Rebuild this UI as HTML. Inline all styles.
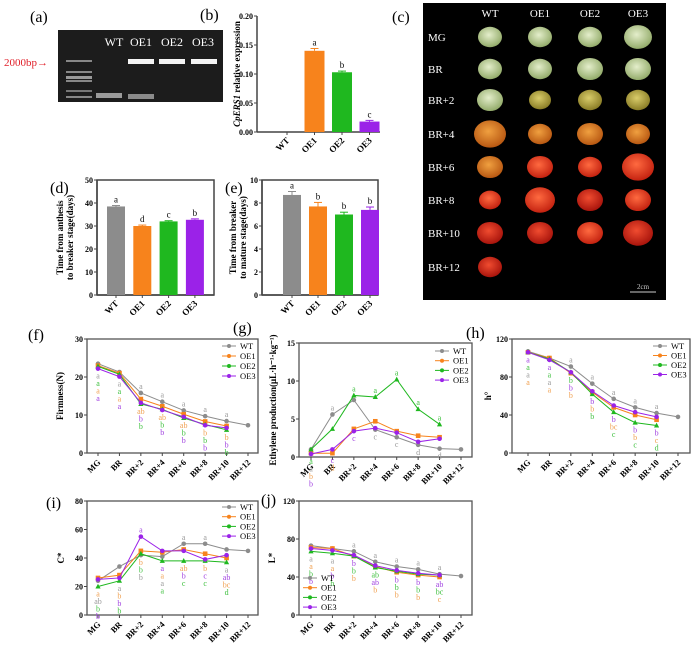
<!DOCTYPE html>
<html><head><meta charset="utf-8"><style>
body{margin:0;background:#fff;width:692px;height:650px;overflow:hidden}
svg{display:block;font-family:"Liberation Serif",serif}
</style></head><body>
<svg id="s" width="692" height="650" viewBox="0 0 692 650" xmlns="http://www.w3.org/2000/svg">
<defs>
<radialGradient id="gG" cx="45%" cy="40%" r="60%"><stop offset="0" stop-color="#e4eecb"/><stop offset="1" stop-color="#93ab6a"/></radialGradient>
<radialGradient id="gY" cx="45%" cy="40%" r="60%"><stop offset="0" stop-color="#d9cc6a"/><stop offset="1" stop-color="#8a7d26"/></radialGradient>
<radialGradient id="gO" cx="45%" cy="40%" r="60%"><stop offset="0" stop-color="#f0a040"/><stop offset="1" stop-color="#b85812"/></radialGradient>
<radialGradient id="gR" cx="45%" cy="40%" r="60%"><stop offset="0" stop-color="#ff6a40"/><stop offset="1" stop-color="#c42210"/></radialGradient>
<radialGradient id="gD" cx="45%" cy="40%" r="60%"><stop offset="0" stop-color="#f04c30"/><stop offset="1" stop-color="#a8140c"/></radialGradient>
</defs>
<g>
<rect x="58" y="30" width="165" height="72" fill="#1c1c1c"/>
<g fill="#cfcfcf">
<rect x="66" y="60" width="26" height="2" opacity=".6"/><rect x="66" y="71" width="26" height="2" opacity=".6"/><rect x="66" y="76" width="26" height="3" opacity=".7"/><rect x="66" y="80" width="26" height="2" opacity=".6"/><rect x="66" y="90" width="26" height="2" opacity=".5"/><rect x="66" y="96" width="26" height="2" opacity=".6"/>
</g>
<rect x="96" y="93" width="26" height="5" fill="#9a9a9a"/>
<rect x="128" y="94" width="26" height="5" fill="#8a8a8a"/>
<rect x="128" y="59" width="26" height="5" fill="#f4f4f4"/>
<rect x="159" y="59" width="26" height="5" fill="#f4f4f4"/>
<rect x="191" y="59" width="26" height="5" fill="#f4f4f4"/>
<g fill="#fff" font-size="12" text-anchor="middle"><text x="114" y="46">WT</text><text x="141" y="46">OE1</text><text x="172" y="46">OE2</text><text x="203" y="46">OE3</text></g>
<text x="4" y="66" fill="#e0202a" font-size="11">2000bp→</text>
</g>
<g>
<rect x="423" y="3" width="243" height="297" fill="#000"/>
<g id="fruits"></g>
<line x1="630" y1="292" x2="656" y2="292" stroke="#ccc" stroke-width="1"/>
<text x="643" y="289" fill="#ccc" font-size="7" text-anchor="middle">2cm</text>
</g>
<g id="charts"></g>
<g font-size="16">
<text x="30" y="22">(a)</text><text x="200" y="20">(b)</text><text x="392" y="22">(c)</text>
<text x="50" y="193">(d)</text><text x="225" y="193">(e)</text>
<text x="28" y="340">(f)</text><text x="233" y="333">(g)</text><text x="466" y="338">(h)</text>
<text x="46" y="508">(i)</text><text x="261" y="505">(j)</text>
</g>
</svg>
<script>
const NS="http://www.w3.org/2000/svg";
function el(p,t,a,txt){const e=document.createElementNS(NS,t);for(const k in a)e.setAttribute(k,a[k]);if(txt!==undefined)e.textContent=txt;p.appendChild(e);return e;}
const charts=document.getElementById('charts');
const fr=document.getElementById('fruits');

const stageNames=["MG","BR","BR+2","BR+4","BR+6","BR+8","BR+10","BR+12"];
const lineNames=["WT","OE1","OE2","OE3"];
const fruitFill=[["gG","gG","gG","gG"],["gG","gG","gG","gG"],["gG","gY","gY","gY"],["gO","gO","gO","gO"],["gO","gR","gR","gR"],["gR","gR","gD","gR"],["gD","gD","gR","gD"],["gD"]];
const fruitSize=[[12,12,12,14],[12,12,13,13],[13,11,12,12],[16,12,13,12],[13,13,12,16],[11,15,13,13],[13,13,13,15],[12]];
const colX=[490,540,590,638], rowY=[37,69,100,134,167,200,233,267];
lineNames.forEach((n,i)=>{const t=el(fr,'text',{x:colX[i],y:17,fill:'#fff','font-size':11,'text-anchor':'middle'},n);});
stageNames.forEach((s,r)=>{const t=el(fr,'text',{x:428,y:rowY[r]+4,fill:'#fff','font-size':11},s);
 fruitFill[r].forEach((f,c)=>{const e=el(fr,'ellipse',{cx:colX[c],cy:rowY[r],rx:fruitSize[r][c],ry:fruitSize[r][c]*0.85,fill:'url(#'+f+')'});});});

const COL=["#8c8c8c","#f7831c","#1fb81f","#9b22e8"];
const LCOL=["#9a9a9a","#f0a050","#40c040","#a040e0"];

const barCats=["WT","OE1","OE2","OE3"];
const bVals=[0,0.140,0.103,0.018], bErr=[0,0.004,0.002,0.002], bLet=["","a","b","c"];
const bTicks=[0,0.05,0.10,0.15,0.20], bTickLab=["0.00","0.05","0.10","0.15","0.20"];
const dVals=[38.5,30.0,32.0,32.7], dErr=[0.4,0.4,0.3,0.4], dLet=["a","d","c","b"];
const dTicks=[0,10,20,30,40,50];
const eVals=[8.7,7.7,7.0,7.4], eErr=[0.3,0.35,0.2,0.25], eLet=["a","b","b","b"];
const eTicks=[0,2,4,6,8,10];

function barChart(o){
 const g=el(charts,'g',{});
 const y=v=>o.yb-(v/o.ymax)*(o.yb-o.yt);
 const x=i=>o.c0+i*o.step;
 if(o.box){el(g,'rect',{x:o.ax,y:o.yt,width:o.right-o.ax,height:o.yb-o.yt,fill:'none',stroke:'#444','stroke-width':1.5});}
 el(g,'line',{x1:o.ax,y1:o.yt,x2:o.ax,y2:o.yb,stroke:'#444','stroke-width':1.5});
 el(g,'line',{x1:o.ax,y1:o.yb,x2:o.right,y2:o.yb,stroke:'#444','stroke-width':1.5});
 o.ticks.forEach((t,i)=>{el(g,'line',{x1:o.ax-3,y1:y(t),x2:o.ax,y2:y(t),stroke:'#444'});el(g,'text',{x:o.ax-4,y:y(t)+3,'font-size':8,'font-weight':'bold','text-anchor':'end'},o.tl?o.tl[i]:t);});
 o.vals.forEach((v,i)=>{
  const b=el(g,'rect',{x:x(i)-o.bw/2,y:y(v),width:o.bw,height:o.yb-y(v),fill:COL[i]});
  if(o.err[i]>0){el(g,'line',{x1:x(i),y1:y(v+o.err[i]),x2:x(i),y2:y(v),stroke:COL[i]});el(g,'line',{x1:x(i)-4,y1:y(v+o.err[i]),x2:x(i)+4,y2:y(v+o.err[i]),stroke:COL[i]});}
  if(o.let[i])el(g,'text',{x:x(i),y:y(v+o.err[i])-3,'font-size':9,'text-anchor':'middle'},o.let[i]);
  el(g,'line',{x1:x(i),y1:o.yb,x2:x(i),y2:o.yb+3,stroke:'#444'});
  const t=el(g,'text',{x:x(i)+3,y:o.yb+9,'font-size':9,'font-weight':'bold','text-anchor':'end',transform:`rotate(-45 ${x(i)+3} ${o.yb+9})`},barCats[i]);
 });
 o.title.forEach((tt,k)=>{const t=el(g,'text',{x:0,y:0,'font-size':9,'font-weight':'bold','text-anchor':'middle',transform:`translate(${o.tx+k*10},${(o.yt+o.yb)/2}) rotate(-90)`});
  if(Array.isArray(tt)){el(t,'tspan',{'font-style':'italic'},tt[0]);el(t,'tspan',{},tt[1]);}else t.textContent=tt;});
}
barChart({name:'chart-b-expression',ax:257,yt:16,yb:132,right:380,ymax:0.20,ticks:bTicks,tl:bTickLab,c0:287,step:27.5,bw:20,vals:bVals,err:bErr,let:bLet,title:[["CpERS1"," relative expression"]],tx:240});
barChart({name:'chart-d-anthesis',box:true,ax:97,yt:180,yb:295,right:214,ymax:50,ticks:dTicks,c0:116,step:26.3,bw:18,vals:dVals,err:dErr,let:dLet,title:["Time from anthesis","to breaker stage(days)"],tx:63});
barChart({name:'chart-e-breaker',box:true,ax:262,yt:180,yb:295,right:378,ymax:10,ticks:eTicks,c0:292,step:26,bw:18,vals:eVals,err:eErr,let:eLet,title:["Time from breaker","to mature stage(days)"],tx:236});

const fWT=[23.5,21.3,15.8,13.5,11.2,9.7,8.4,7.3], fOE1=[23.0,21.0,14.2,12.3,10.2,8.3,7.1], fOE2=[22.8,20.7,12.9,11.5,9.2,7.5,6.1], fOE3=[22.2,20.1,13.2,11.3,9.5,7.3,6.6];
const gWT=[1.0,5.6,7.5,3.6,2.6,1.6,1.1,1.0], gOE1=[0.5,0.5,3.7,4.7,3.4,2.8,2.6], gOE2=[1.0,3.7,8.1,7.9,10.2,6.3,4.3], gOE3=[0.4,1.0,3.4,3.8,3.2,2.0,2.4];
const hWT=[107,100,91,73,57,48,42,38], hOE1=[106,100,84,64,48,40,35], hOE2=[106,99,85,62,43,32,29], hOE3=[106,98,85,65,50,43,38];
const iWT=[24,34,42,41,50,50,46,45], iOE1=[26,28,45,44,46,43,40], iOE2=[20,24,43,38,38,38,37], iOE3=[25,26,55,45,45,39,42];
const jWT=[73,70,67,56,51,48,43,41], jOE1=[71,70,62,51,45,42,40], jOE2=[67,65,62,50,46,43,42], jOE3=[70,68,63,52,47,44,42];
const fTicks=[0,10,20,30], gTicks=[0,5,10,15], hTicks=[0,40,80,120], iTicks=[0,20,40,60,80], jTicks=[0,40,80,120];
const fLet=[[["a",0],["a",2],["a",1],["a",3]],[["a",0],["a",2],["a",1],["a",3]],[["ab",1],["b",3],["b",2]],[["ab",1],["b",2],["b",3]],[["ab",1],["b",2],["b",3]],[["b",1],["b",2],["b",3]],[["b",1],["b",3],["b",2]]];
const gLet=[[["a",2],["a",0],["b",1],["b",3]],[["c",3],["d",1]],[["c",3]],[["c",0]],[["c",0]],[["d",0]],[["d",0]]];
const hLet=[[["a",3],["a",2],["a",0],["a",1]],[["a",3],["a",2],["a",0],["a",1]],[["b",2],["b",3],["b",1]],[["b",3],["b",1],["b",2]],[["b",3],["bc",1],["c",2]],[["b",3],["b",1],["c",2]],[["b",3],["c",1],["d",2]]];
const iLet=[[["a",1],["ab",0],["b",2],["b",3]],[["a",0],["b",1],["b",3],["b",2]],[["b",1],["b",2],["b",0]],[["a",3],["a",1],["a",0],["a",2]],[["ab",1],["b",3],["c",2]],[["b",1],["c",3],["c",2]],[["a",0],["ab",3],["bc",1],["d",2]]];
const jLet=[[["a",0],["a",1],["b",2],["b",3]],[["a",0],["a",1],["b",3],["b",2]],[["b",3],["b",2],["b",1]],[["ab",2],["ab",3],["b",1]],[["b",3],["b",2],["b",1]],[["b",3],["b",2],["b",1]],[["ab",3],["bc",2],["c",1]]];
const fAbove=[null,null,["a",0],["a",0],["a",0],["a",0],["a",0]];
const gAbove=[null,["a",0],["a",2],["a",2],["a",2],["a",2],["a",2]];
const hAbove=[null,null,["a",0],["a",0],["a",0],["a",0],["a",0]];
const iAbove=[null,null,["a",3],null,["a",0],["a",0],null];
const jAbove=[null,null,["a",0],["a",0],["a",0],["a",0],["a",0]];

function lineChart(o){
 const g=el(charts,'g',{});
 const y=v=>o.yb-(v/o.ymax)*(o.yb-o.yt);
 const x=i=>o.x0+i*(o.x1-o.x0)/7;
 el(g,'rect',{x:o.ax,y:o.yt,width:o.right-o.ax,height:o.yb-o.yt,fill:'none',stroke:'#555','stroke-width':1.3});
 o.ticks.forEach(t=>{el(g,'line',{x1:o.ax-3,y1:y(t),x2:o.ax,y2:y(t),stroke:'#444'});el(g,'text',{x:o.ax-4,y:y(t)+3,'font-size':8,'font-weight':'bold','text-anchor':'end'},t);});
 stageNames.forEach((s,i)=>{el(g,'line',{x1:x(i),y1:o.yb,x2:x(i),y2:o.yb+3,stroke:'#444'});const t=el(g,'text',{x:x(i)+3,y:o.yb+10,'font-size':8.5,'font-weight':'bold','text-anchor':'end',transform:`rotate(-45 ${x(i)+3} ${o.yb+10})`},s);});
 [0,1,2,3].forEach(k=>{const d=o.series[k];
  const p=el(g,'polyline',{points:d.map((v,i)=>x(i)+','+y(v)).join(' '),fill:'none',stroke:COL[k],'stroke-width':1});
  d.forEach((v,i)=>{let m;if(k==1)m=el(g,'rect',{x:x(i)-2.3,y:y(v)-2.3,width:4.6,height:4.6,fill:COL[k]});else if(k==2)m=el(g,'polygon',{points:`${x(i)},${y(v)-2.8} ${x(i)-2.6},${y(v)+2} ${x(i)+2.6},${y(v)+2}`,fill:COL[k]});else m=el(g,'circle',{cx:x(i),cy:y(v),r:2.3,fill:COL[k]});});
 });
 o.letters.forEach((st,i)=>{let mn=Math.min(...o.series.map(s=>s[i]).filter(v=>v!==undefined));let yy=y(mn)+10;
  st.forEach(([l,k])=>{el(g,'text',{x:x(i),y:yy,'font-size':8,fill:LCOL[k],'text-anchor':'middle'},l);yy+=7.5;});
  const a=o.above[i];if(a){const mx=o.series[a[1]][i];el(g,'text',{x:x(i),y:y(mx)-4,'font-size':8,fill:LCOL[a[1]],'text-anchor':'middle'},a[0]);}
 });
 lineNames.forEach((n,k)=>{const ly=o.ly+k*o.ls;const lg=el(g,'g',{});
  el(lg,'line',{x1:o.lx,y1:ly,x2:o.lx+14,y2:ly,stroke:COL[k]});el(lg,'circle',{cx:o.lx+7,cy:ly,r:2,fill:COL[k]});el(lg,'text',{x:o.lx+18,y:ly+3,'font-size':8.5},n);});
 const t=el(g,'text',{x:0,y:0,'font-size':9,'font-weight':'bold','text-anchor':'middle',transform:`translate(${o.tx},${(o.yt+o.yb)/2}) rotate(-90)`},o.title);
}
lineChart({name:'chart-f-firmness',ax:87,yt:339,yb:453,right:258,x0:98,x1:248,ymax:30,ticks:fTicks,series:[fWT,fOE1,fOE2,fOE3],letters:fLet,above:fAbove,lx:222,ly:346,ls:10,title:'Firmness(N)',tx:63});
lineChart({name:'chart-g-ethylene',ax:299,yt:343,yb:457,right:472,x0:311,x1:461,ymax:15,ticks:gTicks,series:[gWT,gOE1,gOE2,gOE3],letters:gLet,above:gAbove,lx:435,ly:351,ls:9.7,title:'Ethylene production(μL·h⁻¹·kg⁻¹)',tx:276});
lineChart({name:'chart-h-hue',ax:512,yt:339,yb:453,right:690,x0:528,x1:678,ymax:120,ticks:hTicks,series:[hWT,hOE1,hOE2,hOE3],letters:hLet,above:hAbove,lx:653,ly:346,ls:9.5,title:'h°',tx:491});
lineChart({name:'chart-i-chroma',ax:87,yt:501,yb:615,right:258,x0:98,x1:248,ymax:80,ticks:iTicks,series:[iWT,iOE1,iOE2,iOE3],letters:iLet,above:iAbove,lx:222,ly:507,ls:9.7,title:'C*',tx:64});
lineChart({name:'chart-j-lightness',ax:299,yt:501,yb:615,right:472,x0:311,x1:461,ymax:120,ticks:jTicks,series:[jWT,jOE1,jOE2,jOE3],letters:jLet,above:jAbove,lx:303,ly:578,ls:9.7,title:'L*',tx:275});
</script>
</body></html>
